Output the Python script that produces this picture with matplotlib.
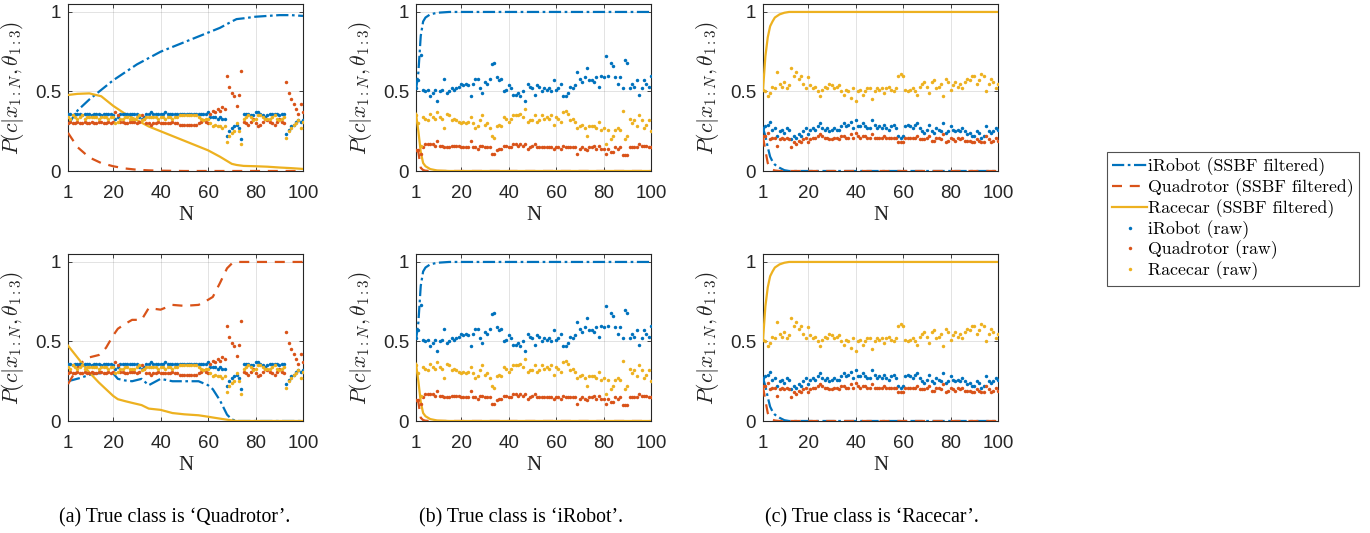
import numpy as np
import matplotlib
matplotlib.use("Agg")
import matplotlib.pyplot as plt
from matplotlib.lines import Line2D

plt.rcParams['mathtext.fontset'] = 'cm'

N = np.arange(1, 101)

# ---------------- raw classifier outputs ----------------
# (a) true class Quadrotor
a_irobot_raw = [0.36, 0.36, 0.35, 0.36, 0.36, 0.36, 0.35, 0.36, 0.36, 0.36,
                0.35, 0.36, 0.36, 0.36, 0.35, 0.36, 0.36, 0.36, 0.36, 0.35,
                0.33, 0.34, 0.36, 0.36, 0.36, 0.36, 0.36, 0.36, 0.36, 0.36,
                0.34, 0.33, 0.34, 0.36, 0.36, 0.37, 0.36, 0.36, 0.36, 0.36,
                0.36, 0.37, 0.36, 0.36, 0.36, 0.36, 0.36, 0.36, 0.36, 0.36,
                0.36, 0.36, 0.36, 0.36, 0.36, 0.36, 0.36, 0.36, 0.36, 0.37,
                0.34, 0.34, 0.34, 0.33, 0.34, 0.33, 0.33, 0.22, 0.25, 0.27,
                0.28, 0.29, 0.27, 0.20, 0.36, 0.36, 0.36, 0.35, 0.35, 0.37,
                0.37, 0.36, 0.35, 0.34, 0.35, 0.36, 0.36, 0.36, 0.36, 0.35,
                0.36, 0.36, 0.23, 0.26, 0.28, 0.29, 0.31, 0.32, 0.31, 0.32]
a_quad_raw = [0.30, 0.31, 0.30, 0.30, 0.31, 0.30, 0.30, 0.31, 0.30, 0.30,
              0.31, 0.30, 0.30, 0.31, 0.31, 0.30, 0.30, 0.31, 0.30, 0.31,
              0.37, 0.35, 0.31, 0.31, 0.30, 0.30, 0.31, 0.31, 0.31, 0.30,
              0.31, 0.35, 0.33, 0.30, 0.30, 0.29, 0.30, 0.30, 0.31, 0.30,
              0.30, 0.30, 0.30, 0.30, 0.31, 0.30, 0.30, 0.29, 0.29, 0.29,
              0.29, 0.29, 0.29, 0.29, 0.29, 0.30, 0.31, 0.32, 0.31, 0.30,
              0.36, 0.38, 0.37, 0.39, 0.38, 0.40, 0.39, 0.60, 0.53, 0.49,
              0.47, 0.41, 0.48, 0.63, 0.31, 0.30, 0.29, 0.31, 0.33, 0.30,
              0.28, 0.29, 0.31, 0.33, 0.32, 0.31, 0.30, 0.29, 0.31, 0.33,
              0.31, 0.30, 0.56, 0.49, 0.45, 0.42, 0.39, 0.36, 0.42, 0.37]
a_race_raw = [0.34, 0.33, 0.35, 0.34, 0.33, 0.34, 0.35, 0.33, 0.34, 0.34,
              0.34, 0.34, 0.34, 0.33, 0.34, 0.34, 0.34, 0.33, 0.34, 0.34,
              0.30, 0.31, 0.33, 0.33, 0.34, 0.34, 0.33, 0.33, 0.33, 0.34,
              0.35, 0.32, 0.33, 0.34, 0.34, 0.34, 0.34, 0.34, 0.33, 0.34,
              0.34, 0.33, 0.34, 0.34, 0.33, 0.34, 0.34, 0.35, 0.35, 0.35,
              0.35, 0.35, 0.35, 0.35, 0.35, 0.34, 0.33, 0.32, 0.33, 0.33,
              0.30, 0.28, 0.29, 0.28, 0.28, 0.27, 0.28, 0.18, 0.22, 0.24,
              0.25, 0.30, 0.25, 0.17, 0.33, 0.34, 0.35, 0.34, 0.32, 0.33,
              0.35, 0.35, 0.34, 0.33, 0.33, 0.33, 0.34, 0.35, 0.33, 0.32,
              0.33, 0.34, 0.21, 0.25, 0.27, 0.29, 0.30, 0.32, 0.27, 0.31]

# (b) true class iRobot
b_irobot_raw = [0.52, 0.57, 0.73, 0.51, 0.50, 0.51, 0.47, 0.49, 0.51, 0.44,
                0.50, 0.51, 0.58, 0.49, 0.50, 0.52, 0.51, 0.52, 0.53, 0.55,
                0.54, 0.55, 0.54, 0.47, 0.55, 0.58, 0.58, 0.52, 0.49, 0.56,
                0.55, 0.58, 0.67, 0.68, 0.59, 0.57, 0.58, 0.50, 0.51, 0.54,
                0.52, 0.48, 0.48, 0.49, 0.47, 0.50, 0.44, 0.55, 0.53, 0.52,
                0.48, 0.54, 0.53, 0.50, 0.52, 0.51, 0.52, 0.50, 0.57, 0.51,
                0.52, 0.55, 0.47, 0.47, 0.49, 0.53, 0.52, 0.54, 0.62, 0.58,
                0.56, 0.59, 0.65, 0.57, 0.57, 0.56, 0.59, 0.53, 0.60, 0.59,
                0.72, 0.60, 0.68, 0.66, 0.59, 0.55, 0.59, 0.52, 0.70, 0.68,
                0.52, 0.55, 0.53, 0.57, 0.48, 0.52, 0.57, 0.55, 0.53, 0.60]
b_quad_raw = [0.13, 0.13, 0.11, 0.15, 0.17, 0.17, 0.17, 0.17, 0.16, 0.19,
              0.16, 0.16, 0.15, 0.15, 0.15, 0.16, 0.16, 0.16, 0.16, 0.15,
              0.15, 0.15, 0.15, 0.19, 0.15, 0.15, 0.14, 0.16, 0.16, 0.15,
              0.15, 0.15, 0.11, 0.11, 0.13, 0.14, 0.14, 0.16, 0.16, 0.15,
              0.15, 0.17, 0.17, 0.16, 0.17, 0.16, 0.17, 0.14, 0.15, 0.16,
              0.17, 0.15, 0.15, 0.15, 0.15, 0.15, 0.15, 0.15, 0.14, 0.15,
              0.15, 0.14, 0.16, 0.15, 0.15, 0.15, 0.15, 0.15, 0.11, 0.14,
              0.15, 0.14, 0.13, 0.15, 0.15, 0.16, 0.14, 0.16, 0.14, 0.14,
              0.11, 0.14, 0.12, 0.12, 0.15, 0.14, 0.15, 0.10, 0.10, 0.10,
              0.15, 0.15, 0.15, 0.15, 0.17, 0.16, 0.16, 0.16, 0.15, 0.15]
b_race_raw = [0.35, 0.30, 0.16, 0.34, 0.33, 0.32, 0.36, 0.34, 0.33, 0.37,
              0.34, 0.33, 0.27, 0.36, 0.35, 0.32, 0.33, 0.32, 0.31, 0.30,
              0.31, 0.30, 0.31, 0.34, 0.30, 0.27, 0.28, 0.32, 0.35, 0.29,
              0.30, 0.27, 0.22, 0.21, 0.28, 0.29, 0.28, 0.34, 0.33, 0.31,
              0.33, 0.35, 0.35, 0.35, 0.36, 0.34, 0.39, 0.31, 0.32, 0.32,
              0.35, 0.31, 0.32, 0.35, 0.33, 0.34, 0.33, 0.35, 0.29, 0.34,
              0.33, 0.31, 0.37, 0.38, 0.36, 0.32, 0.33, 0.31, 0.27, 0.28,
              0.29, 0.27, 0.22, 0.28, 0.28, 0.28, 0.27, 0.31, 0.26, 0.27,
              0.17, 0.26, 0.20, 0.22, 0.26, 0.27, 0.26, 0.38, 0.20, 0.22,
              0.33, 0.30, 0.32, 0.28, 0.35, 0.32, 0.27, 0.29, 0.32, 0.25]

# (c) true class Racecar
c_irobot_raw = [0.27, 0.28, 0.29, 0.31, 0.26, 0.27, 0.22, 0.25, 0.26, 0.24,
                0.27, 0.26, 0.20, 0.22, 0.21, 0.23, 0.22, 0.25, 0.27, 0.23,
                0.26, 0.27, 0.26, 0.28, 0.30, 0.27, 0.26, 0.27, 0.25, 0.26,
                0.27, 0.26, 0.26, 0.28, 0.30, 0.28, 0.29, 0.31, 0.27, 0.32,
                0.28, 0.28, 0.30, 0.28, 0.27, 0.27, 0.32, 0.29, 0.27, 0.28,
                0.27, 0.29, 0.27, 0.26, 0.28, 0.29, 0.27, 0.22, 0.21, 0.22,
                0.28, 0.29, 0.28, 0.27, 0.29, 0.30, 0.27, 0.25, 0.24, 0.26,
                0.29, 0.25, 0.24, 0.27, 0.26, 0.25, 0.30, 0.24, 0.25, 0.28,
                0.26, 0.25, 0.26, 0.25, 0.27, 0.25, 0.23, 0.24, 0.22, 0.22,
                0.25, 0.24, 0.21, 0.22, 0.28, 0.25, 0.24, 0.25, 0.27, 0.26]
c_quad_raw = [0.22, 0.22, 0.24, 0.20, 0.21, 0.21, 0.16, 0.20, 0.21, 0.20,
              0.21, 0.20, 0.15, 0.18, 0.17, 0.19, 0.18, 0.20, 0.21, 0.18,
              0.20, 0.21, 0.21, 0.22, 0.23, 0.22, 0.21, 0.21, 0.20, 0.20,
              0.21, 0.21, 0.20, 0.22, 0.22, 0.21, 0.21, 0.23, 0.21, 0.24,
              0.22, 0.21, 0.22, 0.22, 0.21, 0.21, 0.23, 0.21, 0.21, 0.21,
              0.21, 0.22, 0.21, 0.21, 0.21, 0.21, 0.21, 0.18, 0.18, 0.18,
              0.21, 0.21, 0.21, 0.21, 0.21, 0.22, 0.20, 0.20, 0.20, 0.21,
              0.22, 0.19, 0.19, 0.21, 0.21, 0.20, 0.23, 0.18, 0.19, 0.21,
              0.20, 0.19, 0.21, 0.20, 0.21, 0.19, 0.19, 0.19, 0.18, 0.18,
              0.20, 0.19, 0.18, 0.18, 0.22, 0.20, 0.18, 0.19, 0.21, 0.19]
c_race_raw = [0.51, 0.50, 0.47, 0.49, 0.53, 0.52, 0.62, 0.55, 0.53, 0.56,
              0.52, 0.54, 0.65, 0.60, 0.62, 0.58, 0.60, 0.55, 0.52, 0.59,
              0.54, 0.52, 0.53, 0.50, 0.47, 0.51, 0.53, 0.52, 0.55, 0.54,
              0.52, 0.53, 0.54, 0.50, 0.48, 0.51, 0.50, 0.46, 0.52, 0.44,
              0.50, 0.51, 0.48, 0.50, 0.52, 0.52, 0.45, 0.50, 0.52, 0.51,
              0.52, 0.49, 0.52, 0.53, 0.51, 0.50, 0.52, 0.60, 0.61, 0.60,
              0.51, 0.50, 0.51, 0.52, 0.50, 0.48, 0.53, 0.55, 0.56, 0.53,
              0.49, 0.56, 0.57, 0.52, 0.53, 0.55, 0.47, 0.58, 0.56, 0.51,
              0.54, 0.56, 0.53, 0.55, 0.52, 0.56, 0.58, 0.57, 0.60, 0.60,
              0.55, 0.57, 0.61, 0.60, 0.50, 0.55, 0.58, 0.56, 0.52, 0.55]

# ---------------- SSBF filtered posteriors (sampled at key N) ----------------
# top-left
a1_N      = [1, 5, 10, 15, 20, 25, 30, 35, 40, 45, 50, 55, 60, 65, 70, 72, 75, 80, 85, 90, 95, 100]
a1_irobot = [0.29, 0.38, 0.45, 0.51, 0.57, 0.62, 0.67, 0.71, 0.75, 0.78, 0.81, 0.84, 0.87, 0.90, 0.94, 0.955, 0.96, 0.97, 0.975, 0.98, 0.98, 0.975]
a1_quad   = [0.24, 0.15, 0.085, 0.05, 0.03, 0.016, 0.008, 0.004, 0.002, 0.001, 0.0, 0.0, 0.0, 0.0, 0.0, 0.0, 0.0, 0.0, 0.0, 0.0, 0.0, 0.0]
a1_race   = [0.478, 0.485, 0.488, 0.47, 0.41, 0.36, 0.32, 0.28, 0.25, 0.22, 0.19, 0.16, 0.13, 0.09, 0.045, 0.038, 0.032, 0.03, 0.027, 0.022, 0.018, 0.013]
# bottom-left
a2_N      = [1, 6, 10, 14, 17, 20, 22, 25, 28, 32, 35, 40, 45, 50, 56, 60, 62, 65, 68, 70, 72, 80, 90, 100]
a2_irobot = [0.25, 0.27, 0.29, 0.30, 0.30, 0.30, 0.265, 0.255, 0.25, 0.265, 0.225, 0.265, 0.25, 0.25, 0.25, 0.225, 0.2, 0.13, 0.04, 0.01, 0.0, 0.0, 0.0, 0.0]
a2_quad   = [0.232, 0.36, 0.40, 0.415, 0.46, 0.537, 0.58, 0.61, 0.636, 0.636, 0.71, 0.70, 0.73, 0.724, 0.73, 0.762, 0.78, 0.867, 0.96, 0.99, 1.0, 1.0, 1.0, 1.0]
a2_race   = [0.474, 0.38, 0.305, 0.242, 0.20, 0.158, 0.137, 0.125, 0.114, 0.10, 0.078, 0.07, 0.05, 0.042, 0.036, 0.027, 0.022, 0.015, 0.008, 0.004, 0.0, 0.0, 0.0, 0.0]
# middle (both rows)
b_N      = [1, 2, 3, 4, 5, 7, 10, 15, 20, 100]
b_irobot = [0.51, 0.62, 0.85, 0.94, 0.965, 0.985, 0.995, 1.0, 1.0, 1.0]
b_quad   = [0.13, 0.12, 0.02, 0.006, 0.002, 0.0, 0.0, 0.0, 0.0, 0.0]
b_race   = [0.36, 0.25, 0.12, 0.05, 0.03, 0.012, 0.003, 0.0, 0.0, 0.0]
# right (both rows)
c_N      = [1, 2, 3, 4, 5, 6, 8, 10, 12, 100]
c_irobot = [0.27, 0.22, 0.15, 0.09, 0.06, 0.04, 0.02, 0.005, 0.0, 0.0]
c_quad   = [0.215, 0.13, 0.05, 0.02, 0.008, 0.003, 0.0, 0.0, 0.0, 0.0]
c_race   = [0.51, 0.72, 0.84, 0.91, 0.94, 0.965, 0.985, 0.995, 1.0, 1.0]

x_ticks = [1, 20, 40, 60, 80, 100]
y_ticks = [0, 0.5, 1]
y_tick_labels = ['0', '0.5', '1']
legend_labels = ['iRobot (SSBF filtered)', 'Quadrotor (SSBF filtered)', 'Racecar (SSBF filtered)',
                 'iRobot (raw)', 'Quadrotor (raw)', 'Racecar (raw)']
captions = ["(a) True class is \u2018Quadrotor\u2019.",
            "(b) True class is \u2018iRobot\u2019.",
            "(c) True class is \u2018Racecar\u2019."]

C_BLUE = '#0072BD'
C_RED = '#D95319'
C_YEL = '#EDB120'
AX_COL = '#262626'

fig = plt.figure(figsize=(13.7, 5.33), dpi=100)

lefts = [68, 416, 763]
tops = [4, 254]
W = 235
H = 167


def make_ax(col, row):
    l = lefts[col] / 1370
    b = (533 - tops[row] - H) / 533
    return fig.add_axes([l, b, W / 1370, H / 533])


panels = [
    (0, 0, (a1_N, a1_irobot, a1_quad, a1_race), (a_irobot_raw, a_quad_raw, a_race_raw)),
    (0, 1, (a2_N, a2_irobot, a2_quad, a2_race), (a_irobot_raw, a_quad_raw, a_race_raw)),
    (1, 0, (b_N, b_irobot, b_quad, b_race), (b_irobot_raw, b_quad_raw, b_race_raw)),
    (1, 1, (b_N, b_irobot, b_quad, b_race), (b_irobot_raw, b_quad_raw, b_race_raw)),
    (2, 0, (c_N, c_irobot, c_quad, c_race), (c_irobot_raw, c_quad_raw, c_race_raw)),
    (2, 1, (c_N, c_irobot, c_quad, c_race), (c_irobot_raw, c_quad_raw, c_race_raw)),
]

DASHDOT = (0, (5.5, 1.6, 1.2, 1.6))
DASHED = (0, (4.5, 3.5))

for col, row, filt, raw in panels:
    ax = make_ax(col, row)
    fN, fi, fq, fr = filt
    fi_full = np.interp(N, fN, fi)
    fq_full = np.interp(N, fN, fq)
    fr_full = np.interp(N, fN, fr)
    ax.plot(N, fi_full, linestyle=DASHDOT, color=C_BLUE, lw=1.6, zorder=3)
    ax.plot(N, fq_full, linestyle=DASHED, color=C_RED, lw=1.6, zorder=3)
    ax.plot(N, fr_full, linestyle='-', color=C_YEL, lw=1.6, zorder=3)
    ms = 2.5
    ax.plot(N, raw[0], 'o', ms=ms, mew=0, color=C_BLUE, zorder=4)
    ax.plot(N, raw[1], 'o', ms=ms, mew=0, color=C_RED, zorder=4)
    ax.plot(N, raw[2], 'o', ms=ms, mew=0, color=C_YEL, zorder=4)
    ax.set_xlim(1, 100)
    ax.set_ylim(0, 1.05)
    ax.set_xticks(x_ticks)
    ax.set_yticks(y_ticks)
    ax.set_yticklabels(y_tick_labels)
    ax.grid(True, color=AX_COL, alpha=0.15, lw=0.6)
    ax.set_axisbelow(True)
    for s in ax.spines.values():
        s.set_color(AX_COL)
        s.set_linewidth(0.8)
    ax.tick_params(direction='in', length=3, width=0.6, colors=AX_COL, labelsize=13.5,
                   top=True, right=True)
    ax.tick_params(axis='y', pad=5)
    ax.tick_params(axis='x', pad=10)
    for lab in ax.get_xticklabels() + ax.get_yticklabels():
        lab.set_fontfamily('Liberation Sans')
    ax.set_xlabel('N', fontfamily='Liberation Serif', fontsize=15, labelpad=3, color='#222222')
    ax.set_ylabel(r'$P(c|x_{1:N},\theta_{1:3})$', fontsize=15.5, labelpad=6, color='#222222')

# legend
handles = [
    Line2D([], [], linestyle=DASHDOT, color=C_BLUE, lw=1.6),
    Line2D([], [], linestyle=DASHED, color=C_RED, lw=1.6),
    Line2D([], [], linestyle='-', color=C_YEL, lw=1.6),
    Line2D([], [], linestyle='none', marker='o', ms=2.5, mew=0, color=C_BLUE),
    Line2D([], [], linestyle='none', marker='o', ms=2.5, mew=0, color=C_RED),
    Line2D([], [], linestyle='none', marker='o', ms=2.5, mew=0, color=C_YEL),
]
leg = fig.legend(handles, legend_labels, loc='upper left',
                 bbox_to_anchor=(1107 / 1370, 1 - 152 / 533),
                 prop={'family': 'cmr10', 'size': 12.8}, frameon=True, fancybox=False,
                 edgecolor=AX_COL, handlelength=1.95, handletextpad=0.05,
                 labelspacing=0.12, borderpad=0.3, borderaxespad=0)
leg.get_frame().set_linewidth(0.8)

cap_x = [175, 521, 872]
for cx, t in zip(cap_x, captions):
    fig.text(cx / 1370, 1 - 518 / 533, t, ha='center', va='center',
             fontfamily='Liberation Serif', fontsize=14.3)

fig.savefig('out.png', dpi=100)
